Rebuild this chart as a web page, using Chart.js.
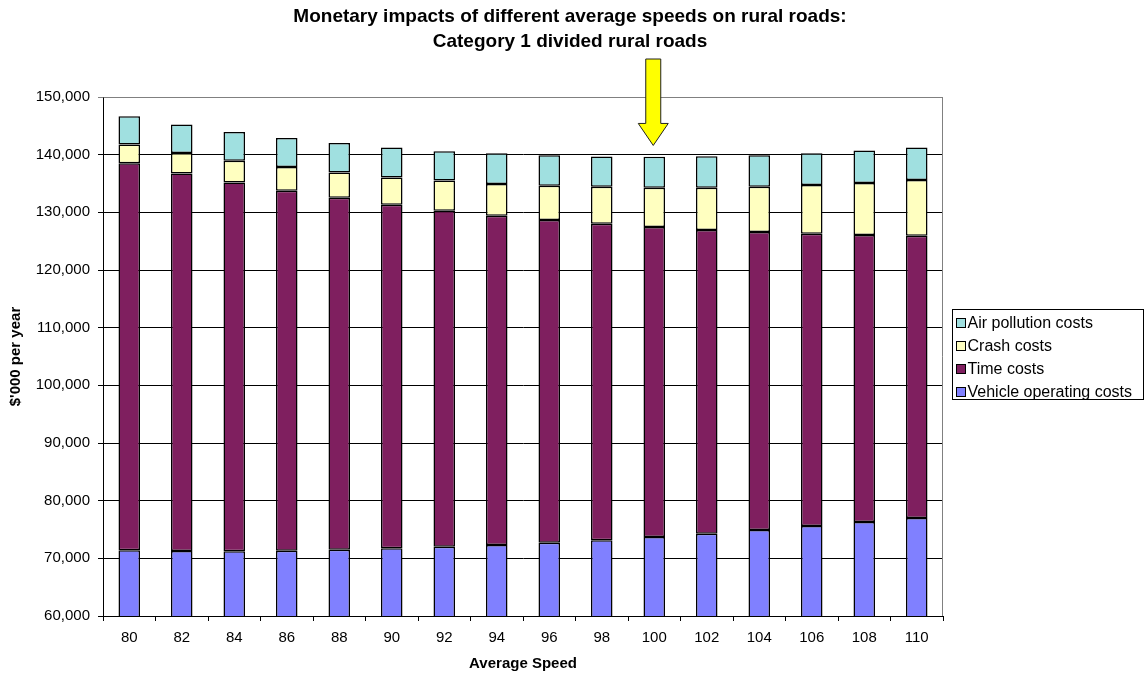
<!DOCTYPE html>
<html>
<head>
<meta charset="utf-8">
<title>Monetary impacts of different average speeds on rural roads</title>
<script src="https://cdn.jsdelivr.net/npm/chart.js@4/dist/chart.umd.min.js"></script>
<style>
  html, body { margin: 0; padding: 0; background: #ffffff; }
  #wrap { width: 1146px; height: 678px; position: relative; }
</style>
</head>
<body>
<div id="wrap"><canvas id="chart" width="1146" height="678"></canvas></div>
<script>
// Average speed categories (km/h)
const speeds = ['80', '82', '84', '86', '88', '90', '92', '94', '96', '98', '100', '102', '104', '106', '108', '110'];

// Cost components, $'000 per year
const vehicleOperatingCosts = [71390, 71265, 71210, 71320, 71490, 71730, 72010, 72300, 72700, 73120, 73690, 74270, 74900, 75600, 76290, 77000];
const timeCosts = [67140, 65485, 63980, 62420, 61040, 59585, 58260, 57110, 55970, 54920, 53770, 52670, 51690, 50700, 49780, 48950];
const crashCosts = [3235, 3560, 3740, 4100, 4390, 4735, 5250, 5490, 5930, 6390, 6800, 7320, 7840, 8420, 9000, 9640];
const airPollutionCosts = [4895, 4915, 5015, 5065, 5120, 5190, 5080, 5360, 5310, 5260, 5360, 5480, 5480, 5540, 5660, 5650];

// Value axis range
const yMin = 60000;
const yMax = 150000;
const yStep = 10000;

// Highlighted speed and where the pointer arrow ends
const highlightSpeed = '100';
const arrowTipValue = 141600;

const titleLines = [
  'Monetary impacts of different average speeds on rural roads:',
  'Category 1 divided rural roads'
];

const FONT = "'Liberation Sans', Arial, Helvetica, sans-serif";

const seriesDefs = [
  { label: 'Vehicle operating costs', data: vehicleOperatingCosts, color: '#8080FF' },
  { label: 'Time costs', data: timeCosts, color: '#7F1F5F' },
  { label: 'Crash costs', data: crashCosts, color: '#FFFFC0' },
  { label: 'Air pollution costs', data: airPollutionCosts, color: '#A0E0E0' }
];

// Two-line bold heading above the plot
const headingPlugin = {
  id: 'heading',
  afterDraw(chart) {
    const ctx = chart.ctx;
    ctx.save();
    ctx.fillStyle = '#000';
    ctx.font = 'bold 19px ' + FONT;
    ctx.textAlign = 'center';
    ctx.textBaseline = 'alphabetic';
    const cx = chart.width / 2 - 3;
    ctx.fillText(titleLines[0], cx, 22);
    ctx.fillText(titleLines[1], cx, 46.5);
    ctx.restore();
  }
};

// Grey frame on the top/right of the plot area
const framePlugin = {
  id: 'frame',
  beforeDatasetsDraw(chart) {
    const { ctx, chartArea } = chart;
    ctx.save();
    ctx.strokeStyle = '#808080';
    ctx.lineWidth = 1;
    const l = Math.round(chartArea.left) + 0.5;
    const r = Math.round(chartArea.right) - 0.5;
    const t = Math.round(chartArea.top) + 0.5;
    ctx.beginPath();
    ctx.moveTo(l, t);
    ctx.lineTo(r, t);
    ctx.lineTo(r, Math.round(chartArea.bottom));
    ctx.stroke();
    ctx.restore();
  }
};

// Yellow arrow pointing down at the highlighted speed
const arrowPlugin = {
  id: 'pointerArrow',
  afterDraw(chart) {
    const { ctx, chartArea } = chart;
    const xs = chart.scales.x;
    const ys = chart.scales.y;
    const cx = xs.getPixelForValue(speeds.indexOf(highlightSpeed)) - 1;
    const tipY = ys.getPixelForValue(arrowTipValue);
    const topY = chartArea.top - 38;
    const shaftHalf = 7.5;
    const headHalf = 15;
    const headLen = 22;
    const baseY = tipY - headLen;
    ctx.save();
    ctx.beginPath();
    ctx.moveTo(cx - shaftHalf, topY);
    ctx.lineTo(cx + shaftHalf, topY);
    ctx.lineTo(cx + shaftHalf, baseY);
    ctx.lineTo(cx + headHalf, baseY);
    ctx.lineTo(cx, tipY);
    ctx.lineTo(cx - headHalf, baseY);
    ctx.lineTo(cx - shaftHalf, baseY);
    ctx.closePath();
    ctx.fillStyle = '#FFFF00';
    ctx.fill();
    ctx.strokeStyle = '#222';
    ctx.lineWidth = 1;
    ctx.stroke();
    ctx.restore();
  }
};

// Boxed legend on the right, top series first
const boxedLegendPlugin = {
  id: 'boxedLegend',
  afterDraw(chart) {
    const { ctx, chartArea } = chart;
    const boxX = Math.round(chartArea.right) + 9.5;
    const boxW = 191;
    const boxH = 90;
    const centerY = (chartArea.top + chartArea.bottom) / 2;
    const boxY = Math.round(centerY - 48) + 0.5;
    ctx.save();
    ctx.fillStyle = '#fff';
    ctx.fillRect(boxX, boxY, boxW, boxH);
    ctx.strokeStyle = '#000';
    ctx.lineWidth = 1;
    ctx.strokeRect(boxX, boxY, boxW, boxH);
    ctx.font = '16px ' + FONT;
    ctx.textAlign = 'left';
    ctx.textBaseline = 'middle';
    const items = chart.data.datasets.slice().reverse();
    items.forEach((ds, i) => {
      const y = boxY + 13.5 + i * 23;
      const mx = boxX + 4;
      ctx.fillStyle = ds.backgroundColor;
      ctx.fillRect(mx, Math.round(y - 5) + 0.5, 9, 9);
      ctx.strokeStyle = '#000';
      ctx.strokeRect(mx, Math.round(y - 5) + 0.5, 9, 9);
      ctx.fillStyle = '#000';
      ctx.fillText(ds.label, mx + 11, y + 1);
    });
    ctx.restore();
  }
};

const chart = new Chart(document.getElementById('chart'), {
  type: 'bar',
  data: {
    labels: speeds,
    datasets: seriesDefs.map(s => ({
      label: s.label,
      data: s.data,
      backgroundColor: s.color,
      borderColor: '#000',
      borderWidth: 1.5,
      borderSkipped: false,
      barPercentage: 0.41,
      categoryPercentage: 1.0
    }))
  },
  options: {
    responsive: false,
    animation: false,
    devicePixelRatio: 1,
    layout: { padding: { top: 97, right: 203, bottom: 0, left: 0 } },
    plugins: {
      legend: { display: false },
      title: { display: false },
      tooltip: { enabled: false }
    },
    scales: {
      x: {
        stacked: true,
        afterFit(scale) { scale.height = 62; },
        grid: {
          display: true,
          drawOnChartArea: false,
          drawTicks: true,
          tickLength: 5,
          color: '#000',
          offset: true
        },
        border: { display: true, color: '#000', width: 1 },
        ticks: {
          color: '#000',
          font: { family: FONT, size: 15 },
          padding: 8,
          maxRotation: 0,
          autoSkip: false
        },
        title: {
          display: true,
          text: 'Average Speed',
          color: '#000',
          font: { family: FONT, size: 15, weight: 'bold' },
          padding: { top: 0, bottom: 5 }
        }
      },
      y: {
        stacked: true,
        min: yMin,
        max: yMax,
        afterFit(scale) { scale.width = 103; },
        grid: {
          color: ctx => (ctx.tick && ctx.tick.value === yMax) ? '#808080' : '#000',
          lineWidth: 1,
          tickLength: 5,
          drawTicks: true
        },
        border: { display: true, color: '#000', width: 1 },
        ticks: {
          stepSize: yStep,
          color: '#000',
          font: { family: FONT, size: 15 },
          padding: 8,
          callback: v => v.toLocaleString('en-US')
        },
        title: {
          display: true,
          text: "$'000 per year",
          color: '#000',
          font: { family: FONT, size: 15, weight: 'bold' },
          padding: { top: 7, bottom: 0 }
        }
      }
    }
  },
  plugins: [framePlugin, headingPlugin, arrowPlugin, boxedLegendPlugin]
});
</script>
</body>
</html>
